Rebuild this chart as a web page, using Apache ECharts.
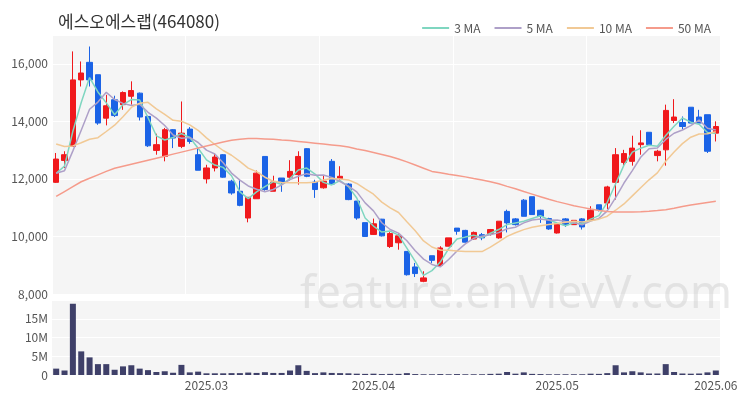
<!DOCTYPE html>
<html>
<head>
<meta charset="utf-8">
<script src="https://cdn.jsdelivr.net/npm/echarts@6/dist/echarts.min.js"></script>
<style>html,body{margin:0;padding:0;background:#fff;}#c{width:750px;height:400px;}</style>
</head>
<body>
<div id="c"></div>
<script>
const dates = [
 '2025-02-05','2025-02-06','2025-02-07','2025-02-10','2025-02-11','2025-02-12','2025-02-13','2025-02-14','2025-02-17','2025-02-18',
 '2025-02-19','2025-02-20','2025-02-21','2025-02-24','2025-02-25','2025-02-26','2025-02-27','2025-02-28','2025-03-04','2025-03-05',
 '2025-03-06','2025-03-07','2025-03-10','2025-03-11','2025-03-12','2025-03-13','2025-03-14','2025-03-17','2025-03-18','2025-03-19',
 '2025-03-20','2025-03-21','2025-03-24','2025-03-25','2025-03-26','2025-03-27','2025-03-28','2025-03-31','2025-04-01','2025-04-02',
 '2025-04-03','2025-04-04','2025-04-07','2025-04-08','2025-04-09','2025-04-10','2025-04-11','2025-04-14','2025-04-15','2025-04-16',
 '2025-04-17','2025-04-18','2025-04-21','2025-04-22','2025-04-23','2025-04-24','2025-04-25','2025-04-28','2025-04-29','2025-04-30',
 '2025-05-02','2025-05-07','2025-05-08','2025-05-09','2025-05-12','2025-05-13','2025-05-14','2025-05-15','2025-05-16','2025-05-19',
 '2025-05-20','2025-05-21','2025-05-22','2025-05-23','2025-05-26','2025-05-27','2025-05-28','2025-05-29','2025-05-30','2025-06-02'
];
const opens = [
 11880,12640,13130,15440,16050,15620,14110,14750,14580,14870,
 14980,14170,12990,12780,13710,13130,13730,12840,12000,12380,
 12840,11920,11570,10640,11310,12780,11570,12030,12060,12150,
 13050,11890,11690,12610,12010,11820,11230,10480,10070,10600,
 9650,9780,9480,8940,8440,9330,8990,9660,10290,10210,
 9910,10060,10100,9950,10870,10610,11260,11380,10910,10620,
 10120,10610,10410,10610,10560,11100,11160,11880,12570,12610,
 13190,13620,12810,13010,14030,13960,14490,14150,14230,13590
];
const closes = [
 12690,12840,15440,15680,15440,13940,14540,14200,15000,15070,
 14150,13150,13190,13710,13420,13590,13300,12300,12380,12760,
 12060,11510,11080,11360,12200,11630,11890,11890,12260,12780,
 12090,11630,11920,11820,12090,11280,10640,10000,10440,10020,
 10100,10020,8670,8710,8560,9170,9600,9950,10180,9800,
 10140,9950,10240,10530,10470,10410,10700,10760,10700,10260,
 10450,10410,10560,10330,10910,10930,11720,12840,12880,13070,
 13250,13190,12960,14380,14150,13820,13940,13940,12960,13820
];
const lows = [
 11860,12380,13110,15210,15210,13880,13860,14150,14400,14580,
 14030,13110,12840,12610,13070,13070,13220,12300,11840,12260,
 12040,11450,11050,10490,11310,11590,11570,11550,11940,11800,
 12060,11340,11660,11800,11940,11260,10580,9990,10050,10000,
 9600,9540,8640,8590,8410,9080,8940,9660,10060,9790,
 9890,9870,10030,9920,10140,10380,10700,10760,10470,10230,
 10100,10330,10410,10240,10560,10870,10950,11280,12440,12460,
 12840,13190,12610,12460,13940,13730,13940,13940,12900,13300
];
const highs = [
 12900,12960,16430,16080,16600,15620,14920,14890,15040,15390,
 15000,14200,13570,13770,13730,14690,13800,13110,12490,12880,
 12860,11970,11970,11360,12290,12780,12110,12030,12650,12960,
 13070,11970,12120,12690,12440,11850,11230,10480,10620,10610,
 10150,10120,9480,9080,8790,9330,9660,9950,10290,10230,
 10170,10120,10260,10530,10930,10640,11300,11380,10930,10650,
 10470,10640,10560,10640,11050,11100,11760,13070,13010,13500,
 13690,13620,13010,14580,14770,14170,14490,14400,14230,14000
];
const volumesM = [
 1.7,1.2,19.0,6.3,4.7,2.9,2.9,1.4,2.3,2.6,
 1.7,1.3,0.8,1.0,0.6,2.7,0.7,0.9,0.45,0.45,
 0.45,0.5,0.5,0.65,0.55,0.75,0.55,0.55,1.2,2.6,
 1.1,0.5,0.7,0.55,0.5,0.45,0.35,0.3,0.35,0.25,
 0.3,0.3,0.5,0.25,0.2,0.2,0.25,0.2,0.25,0.2,
 0.2,0.2,0.3,0.35,0.8,0.35,0.7,0.3,0.25,0.2,
 0.2,0.2,0.2,0.2,0.35,0.3,0.5,2.6,0.7,1.0,
 0.7,0.4,0.4,2.9,0.8,0.4,0.35,0.4,0.7,1.2
];
// 50-day MA (history before the window is not shown)
const ma50 = [
 11390,11560,11730,11900,12020,12140,12260,12370,12440,12510,
 12580,12650,12720,12790,12860,12930,13000,13070,13140,13210,
 13280,13340,13380,13400,13400,13390,13380,13350,13330,13300,
 13270,13240,13210,13180,13150,13110,13040,12990,12920,12850,
 12780,12690,12590,12480,12370,12260,12210,12160,12120,12070,
 12010,11960,11900,11830,11740,11660,11560,11470,11380,11290,
 11210,11140,11070,11010,10950,10900,10870,10850,10850,10850,
 10860,10875,10900,10930,10980,11040,11090,11140,11180,11220
];
// estimated closes of the days just before the window (for short MAs)
const priorCloses = [13750,15200,14600,14200,13400,12400,12000,12100,11800];
const priceTicks = [8000, 17000, 2000];
const volTicks = [0, 20, 5];
const legendNames = ['3 MA','5 MA','10 MA','50 MA'];
const titleText = '에스오에스랩(464080)';

function movingAvg(n){
  const all = priorCloses.concat(closes);
  const off = priorCloses.length;
  return closes.map((_, i) => {
    let s = 0;
    for (let k = 0; k < n; k++) s += all[off + i - k];
    return Math.round(s / n);
  });
}
const candle = dates.map((d, i) => [opens[i], closes[i], lows[i], highs[i]]);
const vols = volumesM.map(v => v * 1e6);

const UP = '#f0191c', DOWN = '#1b63e6';
const font = "'Noto Sans CJK KR','Noto Sans',sans-serif";
const monthStart = (i) => i > 0 && dates[i].slice(0,7) !== dates[i-1].slice(0,7);

const chart = echarts.init(document.getElementById('c'), null, {renderer:'canvas'});
chart.setOption({
  animation: false,
  backgroundColor: '#ffffff',
  textStyle: {fontFamily: font},
  title: {
    text: titleText, left: 53, top: 8,
    textStyle: {fontSize: 17, fontWeight: 'normal', color: '#333', fontFamily: font}
  },
  legend: {
    data: legendNames, right: 34, top: 17, icon: 'rect', itemWidth: 27, itemHeight: 2, itemGap: 14,
    textStyle: {fontSize: 12, color: '#555', fontFamily: font}
  },
  graphic: [{
    type: 'text', left: 300, top: 273, z: 1, silent: true,
    style: {text: 'feature.enVievV.com', fontSize: 45, fontFamily: "'Noto Sans',sans-serif", fill: 'rgba(200,200,200,0.42)'}
  }],
  grid: [
    {left: 52, right: 30, top: 35, height: 259, show: true, backgroundColor: '#f5f5f5', borderWidth: 0},
    {left: 52, right: 30, top: 300, height: 75, show: true, backgroundColor: '#f5f5f5', borderWidth: 0}
  ],
  xAxis: [
    {type: 'category', gridIndex: 0, data: dates, boundaryGap: true,
     axisLine: {show: false}, axisTick: {show: false}, axisLabel: {show: false},
     splitLine: {show: true, interval: (i) => i % 16 === 0, lineStyle: {color: '#ffffff', width: 1}}},
    {type: 'category', gridIndex: 1, data: dates, boundaryGap: true,
     axisLine: {show: false}, axisTick: {show: false},
     axisLabel: {interval: (i) => monthStart(i), formatter: (v) => v.slice(0,4) + '.' + v.slice(5,7),
                 fontSize: 12, color: '#555', margin: 4},
     splitLine: {show: false}}
  ],
  yAxis: [
    {type: 'value', gridIndex: 0, min: priceTicks[0], max: priceTicks[1], interval: priceTicks[2],
     axisLine: {show: false}, axisTick: {show: false},
     axisLabel: {showMaxLabel: false, fontSize: 12, color: '#555', margin: 4,
                 formatter: (v) => v.toLocaleString('en-US')},
     splitLine: {lineStyle: {color: '#ffffff', width: 1}}},
    {type: 'value', gridIndex: 1, min: volTicks[0] * 1e6, max: volTicks[1] * 1e6, interval: volTicks[2] * 1e6,
     axisLine: {show: false}, axisTick: {show: false},
     axisLabel: {showMaxLabel: false, fontSize: 12, color: '#555', margin: 4,
                 formatter: (v) => v === 0 ? '0' : (v / 1e6) + 'M'},
     splitLine: {lineStyle: {color: '#ffffff', width: 1}}}
  ],
  series: [
    {type: 'candlestick', xAxisIndex: 0, yAxisIndex: 0, data: candle, barWidth: '70%', z: 3,
     itemStyle: {color: UP, color0: DOWN, borderColor: UP, borderColor0: DOWN, borderWidth: 1}},
    {name: '3 MA', type: 'line', data: movingAvg(3), symbol: 'none', z: 4,
     lineStyle: {color: '#7fd6c0', width: 1.5}, itemStyle: {color: '#7fd6c0'}},
    {name: '5 MA', type: 'line', data: movingAvg(5), symbol: 'none', z: 4,
     lineStyle: {color: '#aea0c8', width: 1.5}, itemStyle: {color: '#aea0c8'}},
    {name: '10 MA', type: 'line', data: movingAvg(10), symbol: 'none', z: 4,
     lineStyle: {color: '#f1c995', width: 1.5}, itemStyle: {color: '#f1c995'}},
    {name: '50 MA', type: 'line', data: ma50, symbol: 'none', z: 4,
     lineStyle: {color: '#f59b8b', width: 1.5}, itemStyle: {color: '#f59b8b'}},
    {type: 'bar', xAxisIndex: 1, yAxisIndex: 1, data: vols, barWidth: '72%',
     itemStyle: {color: '#3f4069'}}
  ]
});
</script>
</body>
</html>
